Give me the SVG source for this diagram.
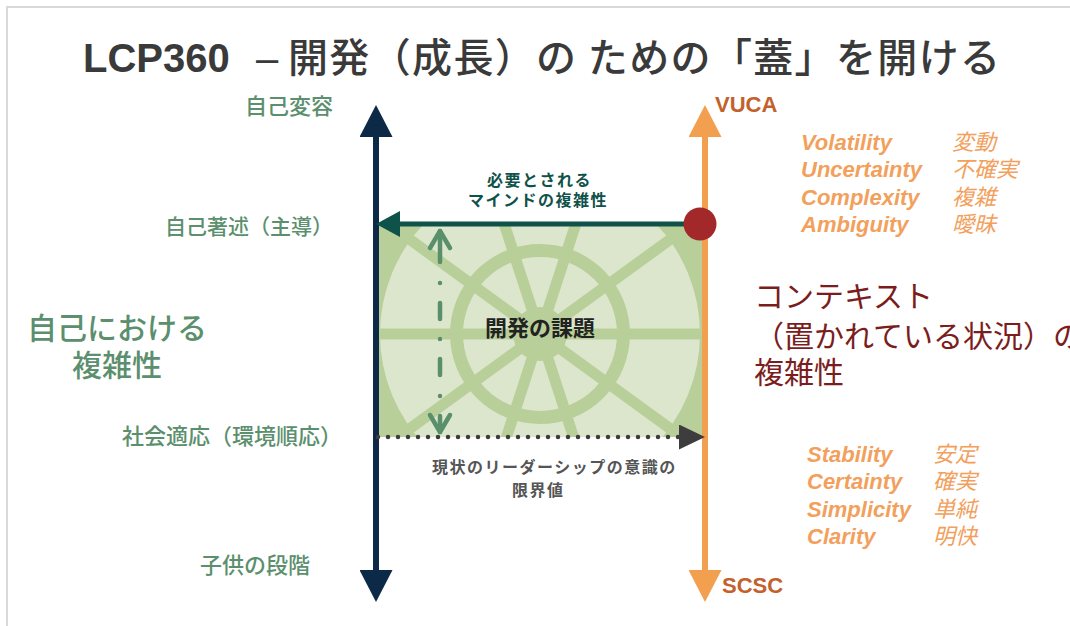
<svg xmlns="http://www.w3.org/2000/svg" width="1070" height="626" viewBox="0 0 1070 626">
  <style>
    .jp { font-family: "Noto Sans CJK JP", "Noto Sans", sans-serif; }
    .lat { font-family: "Liberation Sans", Arial, sans-serif; }
    .self { fill: #5b8f6d; font-weight: 500; }
    .s21 { font-size: 21px; }
    .s22 { font-size: 22px; }
    .s30 { font-size: 30px; }
    .ctx { fill: #7b1d1d; font-size: 30px; }
    .env-en { font-family: "Liberation Sans", Arial, sans-serif; font-weight: bold; font-style: italic; font-size: 22px; fill: #f2a05c; }
    .env-jp { font-family: "Noto Sans CJK JP", sans-serif; font-style: italic; font-size: 22px; fill: #f2a05c; }
    .pole { font-family: "Liberation Sans", Arial, sans-serif; font-weight: bold; font-size: 22px; fill: #c2612c; }
    .note { font-family: "Noto Sans CJK JP", sans-serif; font-weight: bold; font-size: 16px; letter-spacing: 1.5px; }
  </style>
  <defs>
    <marker id="headNavy" markerUnits="userSpaceOnUse" viewBox="0 0 32 33" markerWidth="32" markerHeight="33" refX="2" refY="16.5" orient="auto-start-reverse">
      <path d="M0,0 L32,16.5 L0,33 Z" fill="#0c2a47"/>
    </marker>
    <marker id="headOrange" markerUnits="userSpaceOnUse" viewBox="0 0 32 33" markerWidth="32" markerHeight="33" refX="2" refY="16.5" orient="auto-start-reverse">
      <path d="M0,0 L32,16.5 L0,33 Z" fill="#f2a050"/>
    </marker>
    <marker id="headTeal" markerUnits="userSpaceOnUse" viewBox="0 0 24 26" markerWidth="24" markerHeight="26" refX="2" refY="13" orient="auto">
      <path d="M0,0 L24,13 L0,26 Z" fill="#0f5249"/>
    </marker>
    <marker id="headGray" markerUnits="userSpaceOnUse" viewBox="0 0 26 25" markerWidth="26" markerHeight="25" refX="2" refY="12.5" orient="auto">
      <path d="M0,0 L26,12.5 L0,25 Z" fill="#3d3d3d"/>
    </marker>
    <marker id="chevron" markerUnits="userSpaceOnUse" viewBox="0 0 24 26" markerWidth="24" markerHeight="26" refX="20" refY="13" orient="auto-start-reverse" overflow="visible">
      <path d="M3,3 L20,13 L3,23" fill="none" stroke="#5a8f6c" stroke-width="4.5" stroke-linecap="round" stroke-linejoin="round"/>
    </marker>
    <clipPath id="zoneClip">
      <rect x="376" y="224" width="327" height="213"/>
    </clipPath>
  </defs>

  <!-- slide frame -->
  <path d="M7,626 V7 H1070" fill="none" stroke="#d9d9d9" stroke-width="2"/>

  <!-- title -->
  <text id="title" y="72" fill="#3a3a3a" font-size="40">
    <tspan class="lat" x="83" font-weight="bold">LCP360</tspan>
    <tspan class="lat" x="256">–</tspan>
    <tspan class="jp" x="288" font-weight="500" textLength="712" lengthAdjust="spacing">開発（成長）の ための「蓋」を開ける</tspan>
  </text>

  <!-- development zone: the lid -->
  <g id="zone" clip-path="url(#zoneClip)">
    <rect x="376" y="224" width="327" height="213" fill="#b9cf99"/>
    <circle cx="540" cy="334" r="160" fill="#dce6cc"/>
    <g stroke="#b9cf99" stroke-width="11">
      <line x1="365" y1="334" x2="715" y2="334"/>
      <line x1="398.4" y1="231.1" x2="681.6" y2="436.9"/>
      <line x1="485.9" y1="167.6" x2="594.1" y2="500.4"/>
      <line x1="594.1" y1="167.6" x2="485.9" y2="500.4"/>
      <line x1="681.6" y1="231.1" x2="398.4" y2="436.9"/>
    </g>
    <circle cx="540" cy="334" r="83.5" fill="none" stroke="#b9cf99" stroke-width="13"/>
    <circle cx="540" cy="334" r="27" fill="#b9cf99"/>
  </g>
  <text id="zone-label" class="jp" x="540" y="336" text-anchor="middle" font-size="22" font-weight="bold" fill="#222">開発の課題</text>

  <!-- connectors -->
  <g id="connectors" fill="none">
    <line id="axis-self" x1="376" y1="135" x2="376" y2="572" stroke="#0c2a47" stroke-width="6" marker-start="url(#headNavy)" marker-end="url(#headNavy)"/>
    <line id="axis-context" x1="705" y1="135" x2="705" y2="572" stroke="#f2a050" stroke-width="6" marker-start="url(#headOrange)" marker-end="url(#headOrange)"/>
    <line id="required-mind" x1="700" y1="224" x2="398" y2="224" stroke="#0f5249" stroke-width="5" marker-end="url(#headTeal)"/>
    <line id="current-limit" x1="378" y1="437" x2="681" y2="437" stroke="#3d3d3d" stroke-width="4.5" stroke-linecap="round" stroke-dasharray="0 10" marker-end="url(#headGray)"/>
    <line id="gap" x1="440" y1="231" x2="440" y2="432" stroke="#5a8f6c" stroke-width="4.5" stroke-linecap="round" stroke-dasharray="31 21 0.01 20 16 20 0.01 20 16 21 0.01 20 16 40" marker-start="url(#chevron)" marker-end="url(#chevron)"/>
  </g>

  <!-- current context point -->
  <g id="context-point">
    <circle cx="700" cy="224" r="16.5" fill="#a3282a"/>
  </g>

  <!-- left axis: stages of self complexity -->
  <g id="self-stages" class="jp">
    <text class="self s22" x="245" y="114">自己変容</text>
    <text class="self s21" x="165" y="234">自己著述（主導）</text>
    <text class="self s22" x="122" y="444">社会適応（環境順応）</text>
    <text class="self s22" x="200" y="573">子供の段階</text>
  </g>
  <g id="self-title" class="jp">
    <text class="self s30" x="27" y="339">自己における</text>
    <text class="self s30" x="72" y="376">複雑性</text>
  </g>

  <!-- right axis: context -->
  <g id="vuca">
    <text class="pole" x="715" y="112">VUCA</text>
    <text class="env-en" x="801" y="150">Volatility</text>
    <text class="env-en" x="801" y="177">Uncertainty</text>
    <text class="env-en" x="801" y="205">Complexity</text>
    <text class="env-en" x="801" y="232">Ambiguity</text>
    <text class="env-jp" x="952" y="150">変動</text>
    <text class="env-jp" x="952" y="177">不確実</text>
    <text class="env-jp" x="952" y="205">複雑</text>
    <text class="env-jp" x="952" y="232">曖昧</text>
  </g>
  <g id="context-title" class="jp">
    <text class="ctx" x="754" y="307">コンテキスト</text>
    <text class="ctx" x="754" y="347">（置かれている状況）の</text>
    <text class="ctx" x="754" y="383">複雑性</text>
  </g>
  <g id="scsc">
    <text class="env-en" x="807" y="462">Stability</text>
    <text class="env-en" x="807" y="489">Certainty</text>
    <text class="env-en" x="807" y="517">Simplicity</text>
    <text class="env-en" x="807" y="544">Clarity</text>
    <text class="env-jp" x="933" y="462">安定</text>
    <text class="env-jp" x="933" y="489">確実</text>
    <text class="env-jp" x="933" y="517">単純</text>
    <text class="env-jp" x="933" y="544">明快</text>
    <text class="pole" x="722" y="593">SCSC</text>
  </g>

  <!-- arrow captions -->
  <g id="required-label" class="note" fill="#0f5249">
    <text x="487" y="186">必要とされる</text>
    <text x="468" y="206">マインドの複雑性</text>
  </g>
  <g id="limit-label" class="note" fill="#555">
    <text x="432" y="473">現状のリーダーシップの意識の</text>
    <text x="512" y="496">限界値</text>
  </g>
</svg>
